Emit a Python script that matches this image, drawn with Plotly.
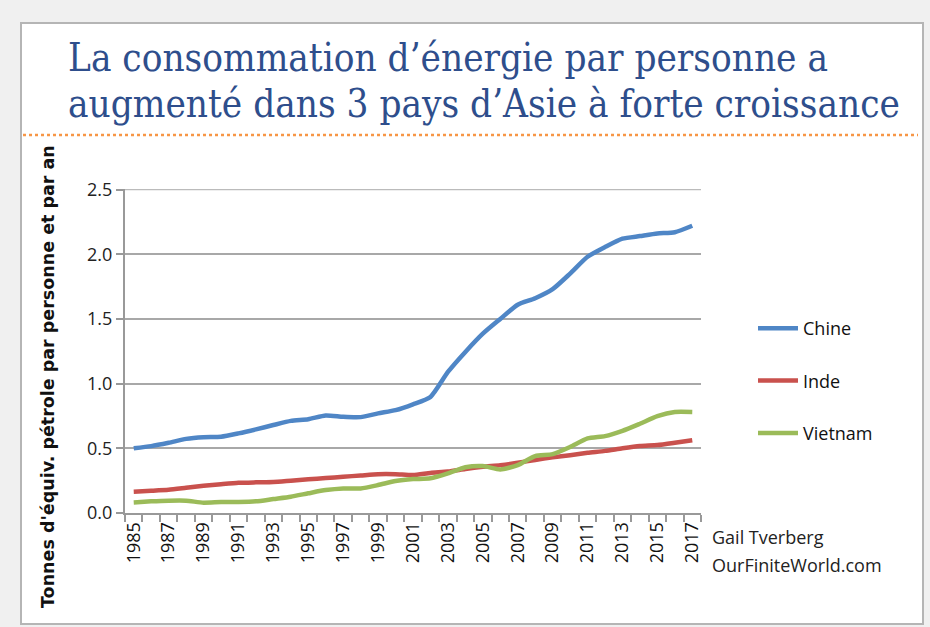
import plotly.graph_objects as go

years = list(range(1985, 2018))
chine = [0.50, 0.517, 0.543, 0.573, 0.586, 0.589, 0.615, 0.646, 0.68, 0.712, 0.725,
         0.754, 0.743, 0.741, 0.77, 0.795, 0.84, 0.897, 1.09, 1.245, 1.386, 1.50,
         1.61, 1.66, 1.73, 1.85, 1.98, 2.055, 2.12, 2.14, 2.16, 2.17, 2.22]
inde = [0.165, 0.172, 0.18, 0.195, 0.21, 0.222, 0.233, 0.237, 0.24, 0.25, 0.26,
        0.27, 0.28, 0.29, 0.30, 0.30, 0.293, 0.31, 0.32, 0.34, 0.357, 0.37,
        0.388, 0.41, 0.43, 0.447, 0.465, 0.48, 0.50, 0.517, 0.525, 0.543, 0.563]
vietnam = [0.082, 0.09, 0.095, 0.095, 0.08, 0.085, 0.085, 0.09, 0.108, 0.126, 0.152,
           0.177, 0.19, 0.19, 0.216, 0.247, 0.262, 0.268, 0.306, 0.353, 0.363, 0.337,
           0.37, 0.44, 0.455, 0.51, 0.576, 0.594, 0.635, 0.69, 0.748, 0.78, 0.78]
series = [("Chine", chine, "#4F86C6"), ("Inde", inde, "#C9514D"), ("Vietnam", vietnam, "#9BBB59")]
tick_years = list(range(1985, 2018, 2))
y_ticks = [0, 0.5, 1.0, 1.5, 2.0, 2.5]

title_lines = ["La consommation d’énergie par personne a",
               "augmenté dans 3 pays d’Asie à forte croissance"]
y_title = "Tonnes d'équiv. pétrole par personne et par an"
credit_lines = ["Gail Tverberg", "OurFiniteWorld.com"]

fig = go.Figure()
for name, vals, col in series:
    fig.add_trace(go.Scatter(x=years, y=vals, name=name, mode="lines",
                             line=dict(color=col, width=4.5, shape="spline", smoothing=0.6),
                             legendgroup=name))

W, H = 930, 627
L, R, T, B = 125, 701, 189, 513


def px(x):
    return (x - L) / (R - L)


def py(y):
    return (B - y) / (B - T)


title_font = dict(family="DejaVu Serif Condensed, DejaVu Serif, serif", size=38.3, color="#2E4E8C")
annotations = [
    dict(text=title_lines[0], xref="paper", yref="paper", x=px(66), y=py(57),
         xanchor="left", yanchor="middle", showarrow=False, font=title_font),
    dict(text=title_lines[1], xref="paper", yref="paper", x=px(66), y=py(104),
         xanchor="left", yanchor="middle", showarrow=False, font=title_font),
    dict(text=y_title, xref="paper", yref="paper", x=px(48), y=py(377),
         xanchor="center", yanchor="middle", showarrow=False, textangle=-90,
         font=dict(size=17.5, color="#111", family="DejaVu Sans, sans-serif", weight="bold")),
    dict(text=credit_lines[0], xref="paper", yref="paper", x=px(710), y=py(537),
         xanchor="left", yanchor="middle", showarrow=False,
         font=dict(size=18, color="#222")),
    dict(text=credit_lines[1], xref="paper", yref="paper", x=px(710), y=py(565),
         xanchor="left", yanchor="middle", showarrow=False,
         font=dict(size=18, color="#222")),
]

fig.update_layout(
    width=W, height=H,
    margin=dict(l=L, r=W - R, t=T, b=H - B),
    paper_bgcolor="#f0f0f0",
    plot_bgcolor="white",
    font=dict(family="Open Sans, Liberation Sans, sans-serif", size=16, color="#222"),
    showlegend=True,
    legend=dict(x=px(753), xanchor="left", y=py(310), yanchor="top",
                bgcolor="rgba(0,0,0,0)", font=dict(size=18, color="#111"),
                tracegroupgap=26, itemwidth=40),
    shapes=[
        dict(type="rect", xref="paper", yref="paper",
             x0=px(21), x1=px(923), y0=py(624), y1=py(23),
             fillcolor="white", line=dict(color="#b5b5b5", width=2), layer="below"),
        dict(type="line", xref="paper", yref="paper",
             x0=px(23), x1=px(918), y0=py(135), y1=py(135),
             line=dict(color="#F79646", width=2.5, dash="dot")),
        dict(type="line", xref="paper", yref="y",
             x0=0, x1=1, y0=y_ticks[-1], y1=y_ticks[-1],
             line=dict(color="#bbbbbb", width=1.5), layer="below"),
    ],
    annotations=annotations,
)

fig.update_xaxes(
    range=[1984.5, 2017.5], tickmode="array", tickvals=tick_years,
    ticktext=[str(y) for y in tick_years], tickangle=-90, ticks="", showgrid=False,
    showline=True, linecolor="#999", linewidth=2, zeroline=False,
    tickfont=dict(size=18, color="#111"),
    minor=dict(tickmode="array", tickvals=[y + 0.5 for y in range(1984, 2018)],
               ticks="outside", ticklen=7, tickcolor="#999", tickwidth=1.5, showgrid=False),
)
fig.update_yaxes(
    range=[0, 2.504], tickmode="array", tickvals=y_ticks,
    ticktext=[f"{v:.1f}" for v in y_ticks], ticks="outside", ticklen=7, tickcolor="#999",
    tickwidth=1.5, showgrid=True, gridcolor="#a8a8a8", gridwidth=1.5,
    showline=True, linecolor="#999", linewidth=2, zeroline=False,
    tickfont=dict(size=18, color="#222"),
)

fig.write_html("out.html", config={"displayModeBar": False},
               post_script="document.body.style.margin='0';")
